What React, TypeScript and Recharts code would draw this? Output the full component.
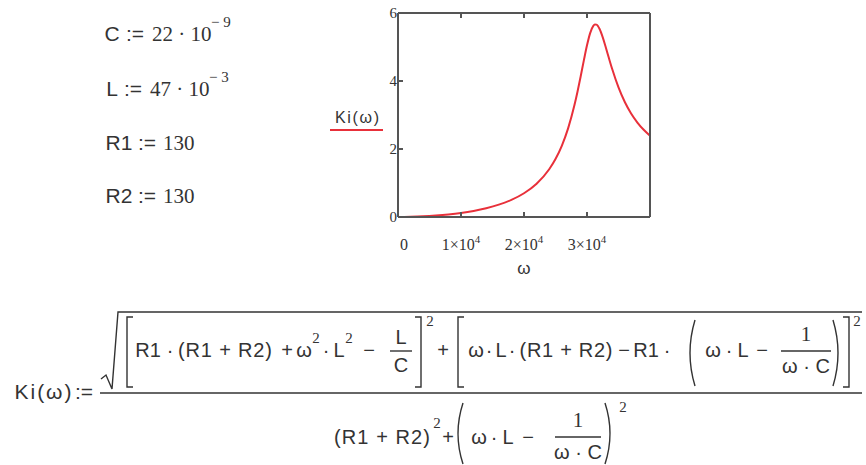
import React from 'react';
import { LineChart, Line, XAxis, YAxis } from 'recharts';

// values (omega in rad/s, Ki dimensionless)
const omega = [
  0, 1000, 2000, 4000, 6000, 8000, 10000, 12000, 14000, 16000, 18000, 20000,
  22000, 24000, 25000, 26000, 27000, 28000, 28500, 29000, 29500, 30000, 30500,
  31000, 31250, 31500, 31750, 32000, 32500, 33000, 33500, 34000, 35000, 36000,
  37000, 38000, 39000, 40000,
];
const ki = [
  0, 0.003, 0.007, 0.02, 0.043, 0.075, 0.119, 0.179, 0.258, 0.363, 0.504, 0.699,
  0.979, 1.404, 1.704, 2.094, 2.607, 3.285, 3.693, 4.14, 4.606, 5.049, 5.409,
  5.623, 5.663, 5.658, 5.611, 5.528, 5.283, 4.979, 4.659, 4.351, 3.811, 3.381,
  3.044, 2.778, 2.565, 2.392,
];
const xTicks = [0, 10000, 20000, 30000];
const xTickMantissa = ['0', '1×10', '2×10', '3×10'];
const xTickExponent = '4';
const yTicks = [0, 2, 4, 6];

const data = omega.map((w, i) => ({ w, ki: ki[i] }));

const SANS = '"Liberation Sans", Arial, sans-serif';
const SERIF = '"Liberation Serif", "Times New Roman", serif';
const INK = '#333';
const FRAME = '#555';
const RED = '#e8303a';

const frameLine = { stroke: FRAME, strokeWidth: 2 };

const EmptyTick = () => <g />;

const XTick = (props: any) => {
  const { x, y, payload } = props;
  const i = xTicks.indexOf(payload.value);
  if (payload.value === 0) {
    return (
      <text x={x + 6} y={y} textAnchor="middle" fontFamily={SERIF} fontSize={16} fill={INK}>
        {xTickMantissa[i]}
      </text>
    );
  }
  return (
    <text x={x} y={y} textAnchor="middle" fontFamily={SERIF} fontSize={16} fill={INK}>
      {xTickMantissa[i]}
      <tspan dy={-7} fontSize={11}>{xTickExponent}</tspan>
    </text>
  );
};

const YTick = (props: any) => {
  const { x, y, payload } = props;
  return (
    <text x={x} y={y + 5} textAnchor="end" fontFamily={SERIF} fontSize={15} fill={INK}>
      {payload.value}
    </text>
  );
};

const LegendLabel = (props: any) => {
  const { viewBox } = props;
  const cx = viewBox.x + 9;
  const cy = viewBox.y + 110;
  return (
    <g>
      <text
        x={cx - 22}
        y={cy}
        textLength={44}
        lengthAdjust="spacing"
        fontFamily={SANS}
        fontSize={16}
        fill={INK}
      >
        Ki(ω)
      </text>
      <line x1={cx - 27} x2={cx + 26} y1={cy + 7} y2={cy + 7} stroke={RED} strokeWidth={2} />
    </g>
  );
};

const OmegaLabel = (props: any) => {
  const { viewBox } = props;
  return (
    <text
      x={viewBox.x + viewBox.width / 2}
      y={viewBox.y + viewBox.height + 17}
      textAnchor="middle"
      fontFamily={SANS}
      fontSize={17}
      fill={INK}
    >
      ω
    </text>
  );
};

const Chart = () => (
  <LineChart width={340} height={290} data={data} margin={{ top: 0, right: 0, bottom: 33, left: 18 }}>
    <XAxis
      xAxisId="top"
      orientation="top"
      dataKey="w"
      type="number"
      domain={[0, 40000]}
      ticks={xTicks}
      interval={0}
      height={13}
      tickSize={-5}
      tick={EmptyTick}
      axisLine={frameLine}
      tickLine={frameLine}
    />
    <XAxis
      dataKey="w"
      type="number"
      domain={[0, 40000]}
      ticks={xTicks}
      interval={0}
      height={40}
      tickSize={-5}
      tickMargin={38}
      tick={XTick}
      axisLine={frameLine}
      tickLine={frameLine}
      label={OmegaLabel}
    />
    <YAxis
      type="number"
      domain={[0, 6]}
      ticks={yTicks}
      interval={0}
      width={50}
      tickSize={-5}
      tickMargin={6}
      tick={YTick}
      axisLine={frameLine}
      tickLine={frameLine}
      label={LegendLabel}
    />
    <YAxis
      yAxisId="right"
      orientation="right"
      type="number"
      domain={[0, 6]}
      ticks={yTicks}
      interval={0}
      width={20}
      tickSize={-5}
      tick={EmptyTick}
      axisLine={frameLine}
      tickLine={frameLine}
    />
    <Line
      type="monotone"
      dataKey="ki"
      stroke={RED}
      strokeWidth={2}
      dot={false}
      isAnimationActive={false}
    />
  </LineChart>
);

// Mathcad worksheet text: variable names in sans, numbers in serif
const sans = { fontFamily: SANS, fontSize: 21, fill: INK };
const math = { fontFamily: SANS, fontSize: 20, fill: INK };
const serif = { fontFamily: SERIF, fontSize: 21, fill: INK };
const sup = { fontFamily: SERIF, fontSize: 15, fill: INK };
const stroke = { stroke: INK, strokeWidth: 1.4, fill: 'none' };

// centred token
const T = ({ x, y, s = math, w, children }: any) => (
  <text
    x={x}
    y={y}
    textAnchor="middle"
    {...s}
    {...(w ? { textLength: w, lengthAdjust: 'spacing' } : {})}
  >
    {children}
  </text>
);

const bracketL = (x: number, y1: number, y2: number) => `M${x + 6},${y1} L${x},${y1} L${x},${y2} L${x + 6},${y2}`;
const bracketR = (x: number, y1: number, y2: number) => `M${x - 6},${y1} L${x},${y1} L${x},${y2} L${x - 6},${y2}`;
const parenL = (x: number, y1: number, y2: number) => `M${x + 5},${y1} Q${x - 5},${(y1 + y2) / 2} ${x + 5},${y2}`;
const parenR = (x: number, y1: number, y2: number) => `M${x - 5},${y1} Q${x + 5},${(y1 + y2) / 2} ${x - 5},${y2}`;

const NY = 357; // numerator baseline
const DY = 444; // denominator baseline

const Worksheet = () => (
  <svg width={866} height={465} style={{ position: 'absolute', left: 0, top: 0 }}>
    {/* definitions */}
    <T x={112} y={41} s={sans}>C</T>
    <T x={135} y={41} s={sans}>:=</T>
    <text x={152} y={41} {...serif}>22 · 10</text>
    <text x={211} y={27} {...sup}>− 9</text>

    <T x={112} y={96} s={sans}>L</T>
    <T x={133} y={96} s={sans}>:=</T>
    <text x={150} y={96} {...serif}>47 · 10</text>
    <text x={209} y={82} {...sup}>− 3</text>

    <T x={119} y={150} s={sans}>R1</T>
    <T x={147} y={150} s={sans}>:=</T>
    <text x={163} y={150} {...serif}>130</text>

    <T x={119} y={203} s={sans}>R2</T>
    <T x={147} y={203} s={sans}>:=</T>
    <text x={163} y={203} {...serif}>130</text>

    {/* Ki(ω) := ... */}
    <T x={43} y={399} w={57} s={sans}>Ki(ω)</T>
    <T x={84} y={399} s={sans}>:=</T>
    <path d="M101,379 L106,375 L112,389 L118,312 L862,312" {...stroke} />
    <path d="M100,393 L862,393" {...stroke} strokeWidth={1.6} />

    {/* numerator, first bracket */}
    <path d={bracketL(127, 317, 387)} {...stroke} />
    <T x={148} y={NY}>R1</T>
    <T x={170} y={NY}>·</T>
    <T x={225} y={NY} w={94}>(R1 + R2)</T>
    <T x={287} y={NY}>+</T>
    <T x={304} y={NY}>ω</T>
    <T x={316} y={343} s={sup}>2</T>
    <T x={326} y={NY}>·</T>
    <T x={339} y={NY}>L</T>
    <T x={349} y={343} s={sup}>2</T>
    <T x={369} y={NY}>−</T>
    <T x={401} y={344}>L</T>
    <path d="M390,351 L412,351" {...stroke} />
    <T x={401} y={372}>C</T>
    <path d={bracketR(421, 317, 387)} {...stroke} />
    <T x={430} y={326} s={sup}>2</T>

    {/* numerator, second bracket */}
    <T x={443} y={NY}>+</T>
    <path d={bracketL(458, 317, 387)} {...stroke} />
    <T x={476} y={NY}>ω</T>
    <T x={489} y={NY}>·</T>
    <T x={501} y={NY}>L</T>
    <T x={512} y={NY}>·</T>
    <T x={566} y={NY} w={93}>(R1 + R2)</T>
    <T x={624} y={NY}>−</T>
    <T x={646} y={NY}>R1</T>
    <T x={667} y={NY}>·</T>
    <path d={parenL(690, 320, 386)} {...stroke} />
    <T x={713} y={NY}>ω</T>
    <T x={729} y={NY}>·</T>
    <T x={743} y={NY}>L</T>
    <T x={762} y={NY}>−</T>
    <T x={806} y={341} s={serif}>1</T>
    <path d="M781,351 L831,351" {...stroke} />
    <T x={806} y={373}>ω · C</T>
    <path d={parenR(838, 320, 386)} {...stroke} />
    <path d={bracketR(849, 317, 387)} {...stroke} />
    <T x={857} y={326} s={sup}>2</T>

    {/* denominator */}
    <T x={382} y={DY} w={96}>(R1 + R2)</T>
    <T x={437} y={428} s={sup}>2</T>
    <T x={448} y={DY}>+</T>
    <path d={parenL(458, 403, 464)} {...stroke} />
    <T x={479} y={DY}>ω</T>
    <T x={494} y={DY}>·</T>
    <T x={508} y={DY}>L</T>
    <T x={528} y={DY}>−</T>
    <T x={578} y={427} s={serif}>1</T>
    <path d="M555,437 L601,437" {...stroke} />
    <T x={578} y={459}>ω · C</T>
    <path d={parenR(610, 403, 464)} {...stroke} />
    <T x={623} y={412} s={sup}>2</T>
  </svg>
);

export default function App() {
  return (
    <div
      style={{
        position: 'absolute',
        left: 0,
        top: 0,
        width: 866,
        height: 465,
        background: '#fff',
        overflow: 'hidden',
      }}
    >
      <Worksheet />
      <div style={{ position: 'absolute', left: 330, top: 0 }}>
        <Chart />
      </div>
    </div>
  );
}
